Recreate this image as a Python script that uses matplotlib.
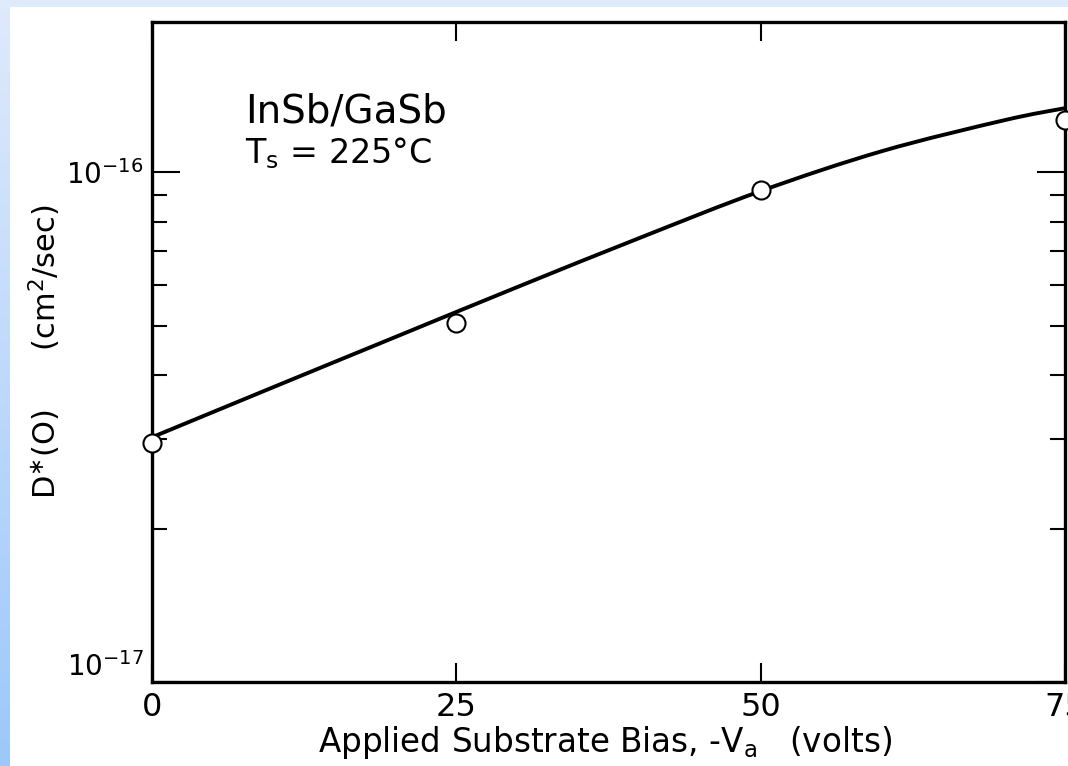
import numpy as np
import matplotlib
matplotlib.use("Agg")
import matplotlib.pyplot as plt
from matplotlib.colors import LinearSegmentedColormap
from matplotlib.ticker import LogLocator, NullFormatter, FixedLocator
from matplotlib.path import Path
from matplotlib.patches import PathPatch

# Measured diffusivity D*(0) versus applied substrate bias
bias_volts = [0, 25, 50, 75]
diffusivity = [2.94e-17, 5.06e-17, 9.22e-17, 1.264e-16]

# Hand-drawn trend curve through the measurements
curve_bias = [0, 10, 20, 30, 40, 50, 60, 70, 75]
curve_diff = [3.02e-17, 3.79e-17, 4.75e-17, 5.95e-17, 7.42e-17,
              9.18e-17, 1.10e-16, 1.264e-16, 1.335e-16]

x_ticks = [0, 25, 50, 75]
x_tick_labels = ["0", "25", "50", "75"]
y_major = [1e-17, 1e-16]
y_major_labels = [r"10$^{-17}$", r"10$^{-16}$"]

plt.rcParams["font.family"] = ["DejaVu Sans"]
plt.rcParams["mathtext.fontset"] = "dejavusans"


def smooth_path(xs, ys):
    """Cubic Bezier path through the given points (tangents set in log-y space)."""
    px = np.asarray(xs, float)
    py = np.log10(np.asarray(ys, float))
    n = len(px)
    verts = [(px[0], py[0])]
    codes = [Path.MOVETO]
    for i in range(n - 1):
        i0, i2 = max(i - 1, 0), min(i + 2, n - 1)
        c1 = (px[i] + (px[i + 1] - px[i0]) / 6, py[i] + (py[i + 1] - py[i0]) / 6)
        c2 = (px[i + 1] - (px[i2] - px[i]) / 6, py[i + 1] - (py[i2] - py[i]) / 6)
        verts += [c1, c2, (px[i + 1], py[i + 1])]
        codes += [Path.CURVE4] * 3
    verts = np.array(verts)
    verts[:, 1] = 10 ** verts[:, 1]
    return Path(verts, codes)


W, H = 1068, 766
fig = plt.figure(figsize=(W / 100, H / 100), dpi=100, facecolor="white")

# Light blue frame strips along the left and top edges
cmap = LinearSegmentedColormap.from_list("edge", ["#dfeafc", "#9dc8fa"])
strip = fig.add_axes([0, 0, 10 / W, 1])
strip.imshow(np.linspace(0, 1, 256).reshape(-1, 1), aspect="auto", cmap=cmap)
strip.axis("off")
top = fig.add_axes([0, 1 - 7 / H, 1, 7 / H])
top.set_facecolor("#dfeafb")
top.set_xticks([]); top.set_yticks([])
for s in top.spines.values():
    s.set_visible(False)

ax = fig.add_axes([152 / W, 1 - 682 / H, (1065 - 152) / W, (682 - 22) / H])
ax.set_yscale("log")
ax.set_xlim(0, 75)
ax.set_ylim(1e-17, 1.97e-16)

ax.add_patch(PathPatch(smooth_path(curve_bias, curve_diff), fill=False,
                       edgecolor="black", lw=2.8, capstyle="round",
                       joinstyle="round", zorder=3, clip_on=False))
ax.plot(bias_volts, diffusivity, linestyle="none", marker="o", ms=13,
        mfc="white", mec="black", mew=1.5, zorder=4, clip_on=False)

for s in ax.spines.values():
    s.set_linewidth(2.4)

ax.xaxis.set_major_locator(FixedLocator(x_ticks))
ax.set_xticklabels(x_tick_labels, fontsize=23)
ax.tick_params(axis="x", which="major", direction="in", length=14, width=1.5,
               top=True, bottom=True, pad=7)

ax.yaxis.set_major_locator(FixedLocator(y_major))
ax.set_yticklabels(y_major_labels, fontsize=20)
ax.yaxis.set_minor_locator(LogLocator(base=10, subs=np.arange(2, 10)))
ax.yaxis.set_minor_formatter(NullFormatter())
ax.tick_params(axis="y", which="major", direction="in", length=20, width=1.5,
               left=True, right=True, pad=6)
ax.tick_params(axis="y", which="minor", direction="in", length=11, width=1.5,
               left=True, right=True)
ax.get_yticklabels()[0].set_verticalalignment("bottom")

ax.text(0.102, 0.848, "InSb/GaSb", transform=ax.transAxes, fontsize=28,
        va="baseline", ha="left")
ax.text(0.102, 0.786, r"T$_\mathregular{s}$ = 225°C", transform=ax.transAxes,
        fontsize=24, va="baseline", ha="left")

fig.text(605 / W, 1 - 752 / H,
         r"Applied Substrate Bias, -V$_\mathregular{a}$   (volts)",
         fontsize=23.5, ha="center", va="baseline")
fig.text(45 / W, 1 - 352 / H, r"D$^{\ast}$(O)      (cm$^2$/sec)", fontsize=22,
         rotation=90, ha="center", va="center")

fig.savefig("out.png", dpi=100, facecolor="white")
